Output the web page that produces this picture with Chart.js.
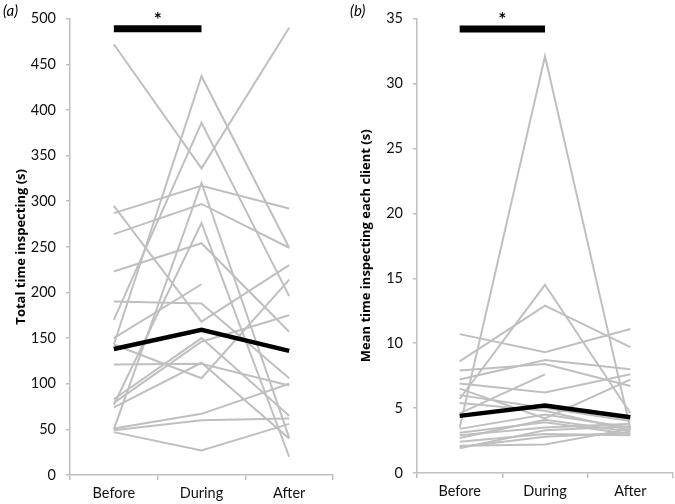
<!DOCTYPE html>
<html>
<head>
<meta charset="utf-8">
<script src="https://cdn.jsdelivr.net/npm/chart.js@4.4.1/dist/chart.umd.min.js"></script>
<style>
    body { margin: 0; background: #fff; }
    #wrap { position: relative; width: 675px; height: 504px; }
    canvas { position: absolute; top: 0; }
    .panel { position: absolute; top: 1px; font: italic 15px Lato, sans-serif; color: #000; }
</style>
</head>
<body>
<div id="wrap">
    <canvas id="chartA" width="340" height="504" style="left:0"></canvas>
    <canvas id="chartB" width="330" height="504" style="left:345px"></canvas>
    <span class="panel" style="left:3px">(a)</span>
    <span class="panel" style="left:350px">(b)</span>
</div>
<script>
// categories
const phases = ['Before', 'During', 'After'];

// (a) total time inspecting, one entry per individual
const totalBefore = [472, 295, 287, 264, 223, 190, 150, 143, 170, 50, 77, 143, 74, 79, 51, 49, 47, 121, 83];
const totalDuring = [336, 168, 317, 297, 254, 188, 209, 437, 386, 320, 276, 106, 123, 146, 67, 60, 27, 122, 150];
const totalAfter  = [490, 230, 292, 249, 157, 106, null, 249, 196, 41, 20, 214, 40, 175, 100, 62, 56, 98, 65];
const totalMean   = [138, 159, 136];
const totalSig    = [489, 489, null];

// (b) mean time inspecting each client
const clientBefore = [3.5, 5.7, 8.6, 10.7, 7.2, 7.9, 4.6, 6.9, 6.5, 6.0, 5.4, 3.4, 3.1, 2.9, 2.7, 2.4, 2.1, 1.9, 2.0];
const clientDuring = [32.1, 14.5, 12.9, 9.3, 8.7, 8.4, 7.6, 6.2, 4.2, 5.0, 4.8, 4.5, 3.9, 3.5, 4.1, 3.0, 2.2, 3.3, 2.8];
const clientAfter  = [3.4, 4.6, 9.7, 11.1, 8.0, 6.7, null, 7.6, 7.2, 4.0, 3.3, 3.5, 3.0, 3.8, 3.2, 2.9, 3.4, 3.6, 3.1];
const clientMean   = [4.4, 5.2, 4.3];
const clientSig    = [34.2, 34.2, null];

const grey = '#bfbfbf';
const font = 'Lato, sans-serif';

// star above the significance bar
const starPlugin = {
    id: 'star',
    afterDatasetsDraw(chart) {
        const meta = chart.getDatasetMeta(1);
        const p0 = meta.data[0], p1 = meta.data[1];
        const ctx = chart.ctx;
        ctx.save();
        ctx.fillStyle = '#000';
        ctx.font = 'bold 19px ' + font;
        ctx.textAlign = 'center';
        ctx.textBaseline = 'middle';
        ctx.fillText('*', (p0.x + p1.x) / 2, p0.y - 9);
        ctx.restore();
    }
};

function makeChart(id, before, during, after, mean, sig, yMax, yStep, title, yWidth, xHeight, pad) {
    const datasets = [
        { data: mean, borderColor: '#000', borderWidth: 4.5 },
        { data: sig, borderColor: '#000', borderWidth: 7, borderCapStyle: 'butt' }
    ];
    before.forEach((b, i) => {
        datasets.push({ data: [b, during[i], after[i]], borderColor: grey, borderWidth: 2 });
    });

    return new Chart(document.getElementById(id), {
        type: 'line',
        data: { labels: phases, datasets: datasets },
        options: {
            responsive: false,
            animation: false,
            layout: { padding: pad },
            elements: { point: { radius: 0 }, line: { tension: 0 } },
            plugins: { legend: { display: false }, tooltip: { enabled: false } },
            scales: {
                x: {
                    offset: true,
                    grid: { offset: true, drawOnChartArea: false, tickLength: 5, color: grey, lineWidth: 1.5 },
                    border: { color: grey, width: 1.5 },
                    ticks: { color: '#111', font: { family: font, size: 14.5 }, padding: 5 },
                    afterFit(scale) { scale.height = xHeight; }
                },
                y: {
                    min: 0, max: yMax,
                    grid: { drawOnChartArea: false, tickLength: 4, color: grey, lineWidth: 1.5 },
                    border: { color: grey, width: 1.5 },
                    ticks: { stepSize: yStep, color: '#111', font: { family: font, size: 14.5 }, padding: 10 },
                    title: {
                        display: true, text: title, color: '#000',
                        font: { family: "'Open Sans', sans-serif", size: 13, weight: 'bold' },
                        padding: { top: 13, bottom: 0 }
                    },
                    afterFit(scale) { scale.width = yWidth; }
                }
            }
        },
        plugins: [starPlugin]
    });
}

makeChart('chartA', totalBefore, totalDuring, totalAfter, totalMean, totalSig,
    500, 50, 'Total time inspecting (s)', 70, 29, { top: 14, right: 7, left: 0, bottom: 0 });
makeChart('chartB', clientBefore, clientDuring, clientAfter, clientMean, clientSig,
    35, 5, 'Mean time inspecting each client (s)', 72, 31, { top: 15, right: 2, left: 0, bottom: 0 });
</script>
</body>
</html>
